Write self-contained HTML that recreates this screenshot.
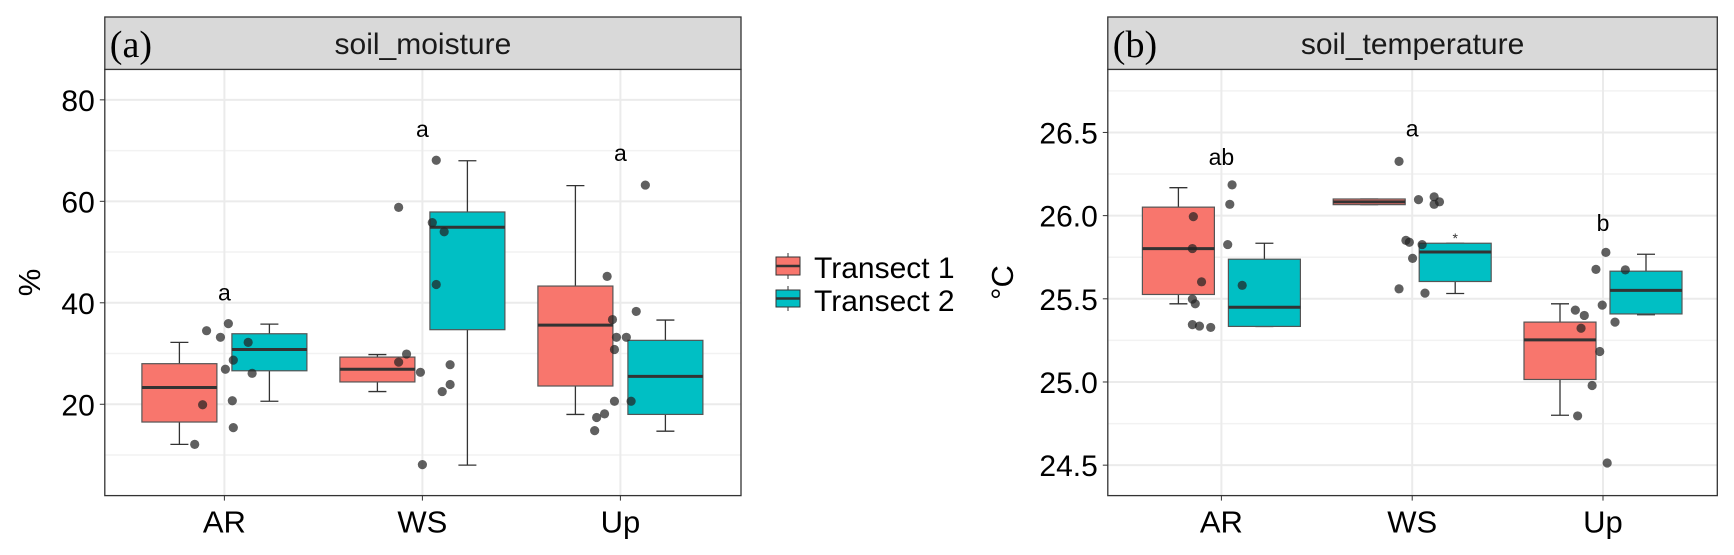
<!DOCTYPE html>
<html><head><meta charset="utf-8"><style>
html,body{margin:0;padding:0;background:#fff;}
svg{display:block;font-family:"Liberation Sans",Arial,sans-serif;}
</style></head><body>
<svg id="fig" width="1734" height="555" viewBox="0 0 1734 555" xmlns="http://www.w3.org/2000/svg">
<g id="legend">
  <g>
    <line x1="788" y1="253" x2="788" y2="279" stroke="#333" stroke-width="1"/>
    <rect x="776" y="257" width="24" height="18" fill="#F8766D" stroke="#333" stroke-width="1"/>
    <line x1="776" y1="266" x2="800" y2="266" stroke="#333" stroke-width="2.5"/>
    <text x="814" y="278" font-size="30" fill="#000">Transect 1</text>
  </g>
  <g>
    <line x1="788" y1="286" x2="788" y2="311" stroke="#333" stroke-width="1"/>
    <rect x="776" y="290" width="24" height="17" fill="#00BFC4" stroke="#333" stroke-width="1"/>
    <line x1="776" y1="298.5" x2="800" y2="298.5" stroke="#333" stroke-width="2.5"/>
    <text x="814" y="311" font-size="30" fill="#000">Transect 2</text>
  </g>
</g>
</svg>
<script>
// ---------- data ----------
const categories = ["AR", "WS", "Up"];
// panel a: soil moisture (%) — [lower, Q1, median, Q3, upper]
const moistT1 = [[12.1,16.5,23.3,28.0,32.2],[22.5,24.4,26.9,29.3,29.8],[18.0,23.6,35.6,43.3,63.1]];
const moistT2 = [[20.6,26.6,30.8,33.9,35.8],[8.0,34.7,54.9,57.9,68.0],[14.7,18.0,25.5,32.6,36.6]];
const moistPtsCat = [0,0,0,0,0,0,0,0,0,0,0, 1,1,1,1,1,1,1,1,1,1,1,1, 2,2,2,2,2,2,2,2,2,2,2,2];
const moistPtsVal = [12.1,19.9,34.5,33.2,35.9,26.9,28.7,20.7,15.4,32.2,26.1,
  58.8,68.1,55.8,54.0,43.6,29.9,28.3,26.3,27.8,23.9,22.5,8.1,
  63.2,45.2,36.7,38.3,33.2,33.2,30.8,20.6,20.6,18.1,17.4,14.8];
const moistPtsJit = [-0.15,-0.11,-0.09,-0.02,0.02,0.005,0.045,0.04,0.045,0.12,0.14,
  -0.12,0.07,0.05,0.11,0.07,-0.08,-0.12,-0.01,0.14,0.14,0.10,0.0,
  0.126,-0.067,-0.04,0.08,-0.02,0.03,-0.03,-0.03,0.054,-0.08,-0.12,-0.13];
const moistLetters = ["a","a","a"];
const moistLetterVal = [42.0,74.3,69.5];
const moistTicks = [20,40,60,80];
// panel b: soil temperature (°C)
const tempT1 = [[25.47,25.526,25.802,26.051,26.168],[26.066,26.066,26.083,26.1,26.1],[24.80,25.015,25.253,25.36,25.47]];
const tempT2 = [[25.334,25.334,25.449,25.738,25.834],[25.532,25.604,25.781,25.834,25.834],[25.404,25.409,25.551,25.666,25.768]];
const tempOutlierCat = [1];
const tempOutlierVal = [25.885];
const tempPtsCat = [0,0,0,0,0,0,0,0,0,0,0,0, 1,1,1,1,1,1,1,1,1,1,1, 2,2,2,2,2,2,2,2,2,2,2,2];
const tempPtsVal = [25.994,25.802,25.602,25.498,25.47,25.345,25.336,25.328,26.185,26.068,25.826,25.581,
  26.326,26.096,26.113,26.068,26.083,25.851,25.840,25.826,25.743,25.560,25.534,
  25.779,25.677,25.674,25.462,25.432,25.4,25.36,25.323,25.183,24.979,24.796,24.513];
const tempPtsJit = [-0.147,-0.152,-0.104,-0.152,-0.137,-0.152,-0.115,-0.056,0.056,0.044,0.033,0.109,
  -0.069,0.033,0.115,0.115,0.143,-0.033,-0.015,0.052,0.002,-0.069,0.067,
  0.015,-0.037,0.117,-0.004,-0.145,-0.098,0.063,-0.115,-0.017,-0.057,-0.133,0.022];
const tempLetters = ["ab","a","b"];
const tempLetterVal = [26.353,26.523,25.955];
const tempTicks = ["24.5","25.0","25.5","26.0","26.5"];

// ---------- drawing ----------
const NS = "http://www.w3.org/2000/svg";
const svg = document.getElementById("fig");
function mk(tag, attrs, parent){
  const e = document.createElementNS(NS, tag);
  for (const k in attrs) e.setAttribute(k, attrs[k]);
  (parent||svg).appendChild(e);
  return e;
}

function panel(cfg){
  const g = mk("g", {});
  
  
  const L=cfg.left, R=cfg.right, T=69.4, B=495.6;
  const y = v => T + (cfg.vmax - v) / (cfg.vmax - cfg.vmin) * (B - T);
  const x = (i, j) => cfg.c0 + (i + (j||0)) * cfg.step;
  // background
  mk("rect",{x:L,y:T,width:R-L,height:B-T,fill:"#fff"},g);
  // minor grid
  for (let k=0;k<cfg.ticks.length+1;k++){
    const v = Number(cfg.ticks[0]) + (k-0.5)*cfg.tickStep;
    if (v>cfg.vmin && v<cfg.vmax){
      const gl = mk("line",{x1:L,x2:R,y1:y(v),y2:y(v),stroke:"#f2f2f2","stroke-width":1.5},g);
      
      
    }
  }
  // major grid + tick labels
  cfg.ticks.forEach(t=>{
    const v=Number(t);
    const gl = mk("line",{x1:L,x2:R,y1:y(v),y2:y(v),stroke:"#ebebeb","stroke-width":2},g);
    
    
    mk("line",{x1:L-5,x2:L,y1:y(v),y2:y(v),stroke:"#333","stroke-width":1},g);
    const tl = mk("text",{x:L-10,y:y(v)+11,"font-size":30,"text-anchor":"end",fill:"#000"},g);
    tl.textContent = t;
    
    
  });
  categories.forEach((c,i)=>{
    const gl = mk("line",{x1:x(i),x2:x(i),y1:T,y2:B,stroke:"#ebebeb","stroke-width":2},g);
    
    
    mk("line",{x1:x(i),x2:x(i),y1:B,y2:B+5,stroke:"#333","stroke-width":1},g);
    const tl = mk("text",{x:x(i),y:B+37,"font-size":31,"text-anchor":"middle",fill:"#000"},g);
    tl.textContent = c;
    
    
  });
  // boxes
  const bw = cfg.boxW;
  [[cfg.s1,"#F8766D",-1,"transect-1"],[cfg.s2,"#00BFC4",1,"transect-2"]].forEach(([ser,col,side,sn])=>{
    ser.forEach((q,i)=>{
      const cx = x(i) + side*cfg.dodge;
      const bg = mk("g",{},g);
      
      
      mk("line",{x1:cx,x2:cx,y1:y(q[4]),y2:y(q[3]),stroke:"#333","stroke-width":1.3},bg);
      mk("line",{x1:cx,x2:cx,y1:y(q[1]),y2:y(q[0]),stroke:"#333","stroke-width":1.3},bg);
      mk("line",{x1:cx-9,x2:cx+9,y1:y(q[4]),y2:y(q[4]),stroke:"#333","stroke-width":1.3},bg);
      mk("line",{x1:cx-9,x2:cx+9,y1:y(q[0]),y2:y(q[0]),stroke:"#333","stroke-width":1.3},bg);
      mk("rect",{x:cx-bw/2,y:y(q[3]),width:bw,height:Math.max(1,y(q[1])-y(q[3])),fill:col,stroke:"#555","stroke-width":1.2},bg);
      mk("line",{x1:cx-bw/2,x2:cx+bw/2,y1:y(q[2]),y2:y(q[2]),stroke:"#333","stroke-width":3},bg);
    });
  });
  // outliers
  (cfg.outCat||[]).forEach((ci,k)=>{
    const o = mk("text",{x:x(ci)+cfg.dodge,y:y(cfg.outVal[k])+8,"font-size":14,"text-anchor":"middle",fill:"#333"},g);
    o.textContent="*";
    
    
  });
  // points
  cfg.pCat.forEach((ci,k)=>{
    const p = mk("circle",{cx:x(ci,cfg.pJit[k]),cy:y(cfg.pVal[k]),r:4.6,fill:"#222","fill-opacity":0.72},g);
    
    
  });
  // letters
  cfg.letters.forEach((s,i)=>{
    const t = mk("text",{x:x(i),y:y(cfg.letterVal[i])+8,"font-size":23,"text-anchor":"middle",fill:"#000"},g);
    t.textContent=s;
    
    
  });
  // frame
  mk("rect",{x:L,y:T,width:R-L,height:B-T,fill:"none",stroke:"#333","stroke-width":1.3},g);
  // strip
  const st = mk("rect",{x:L,y:17,width:R-L,height:T-17,fill:"#d9d9d9",stroke:"#333","stroke-width":1.3},g);
  
  
  const ttl = mk("text",{x:(L+R)/2,y:54,"font-size":30,"text-anchor":"middle",fill:"#1a1a1a"},g);
  ttl.textContent = cfg.title;
  
  
  const tag = mk("text",{x:L+5,y:57,"font-size":38,fill:"#000","font-family":"Liberation Serif, serif"},g);
  tag.textContent = cfg.tag;
  
  
  const yt = mk("text",{x:0,y:0,"font-size":31,"text-anchor":"middle",fill:"#000",transform:`translate(${cfg.ytX},${(T+B)/2}) rotate(-90)`},g);
  yt.textContent = cfg.ytitle;
  
  
}

panel({name:"panel-soil-moisture",left:104.8,right:741,vmin:2.0,vmax:86.0,c0:224.4,step:198,dodge:45,boxW:75,
  s1:moistT1,s2:moistT2,pCat:moistPtsCat,pVal:moistPtsVal,pJit:moistPtsJit,letters:moistLetters,letterVal:moistLetterVal,
  ticks:moistTicks,tickStep:20,title:"soil_moisture",tag:"(a)",ytitle:"%",ytX:40});
panel({name:"panel-soil-temperature",left:1107.8,right:1717.3,vmin:24.317,vmax:26.879,c0:1221.4,step:190.8,dodge:43,boxW:72,
  s1:tempT1,s2:tempT2,pCat:tempPtsCat,pVal:tempPtsVal,pJit:tempPtsJit,letters:tempLetters,letterVal:tempLetterVal,
  outCat:tempOutlierCat,outVal:tempOutlierVal,
  ticks:tempTicks,tickStep:0.5,title:"soil_temperature",tag:"(b)",ytitle:"°C",ytX:1013});
</script>
</body></html>
